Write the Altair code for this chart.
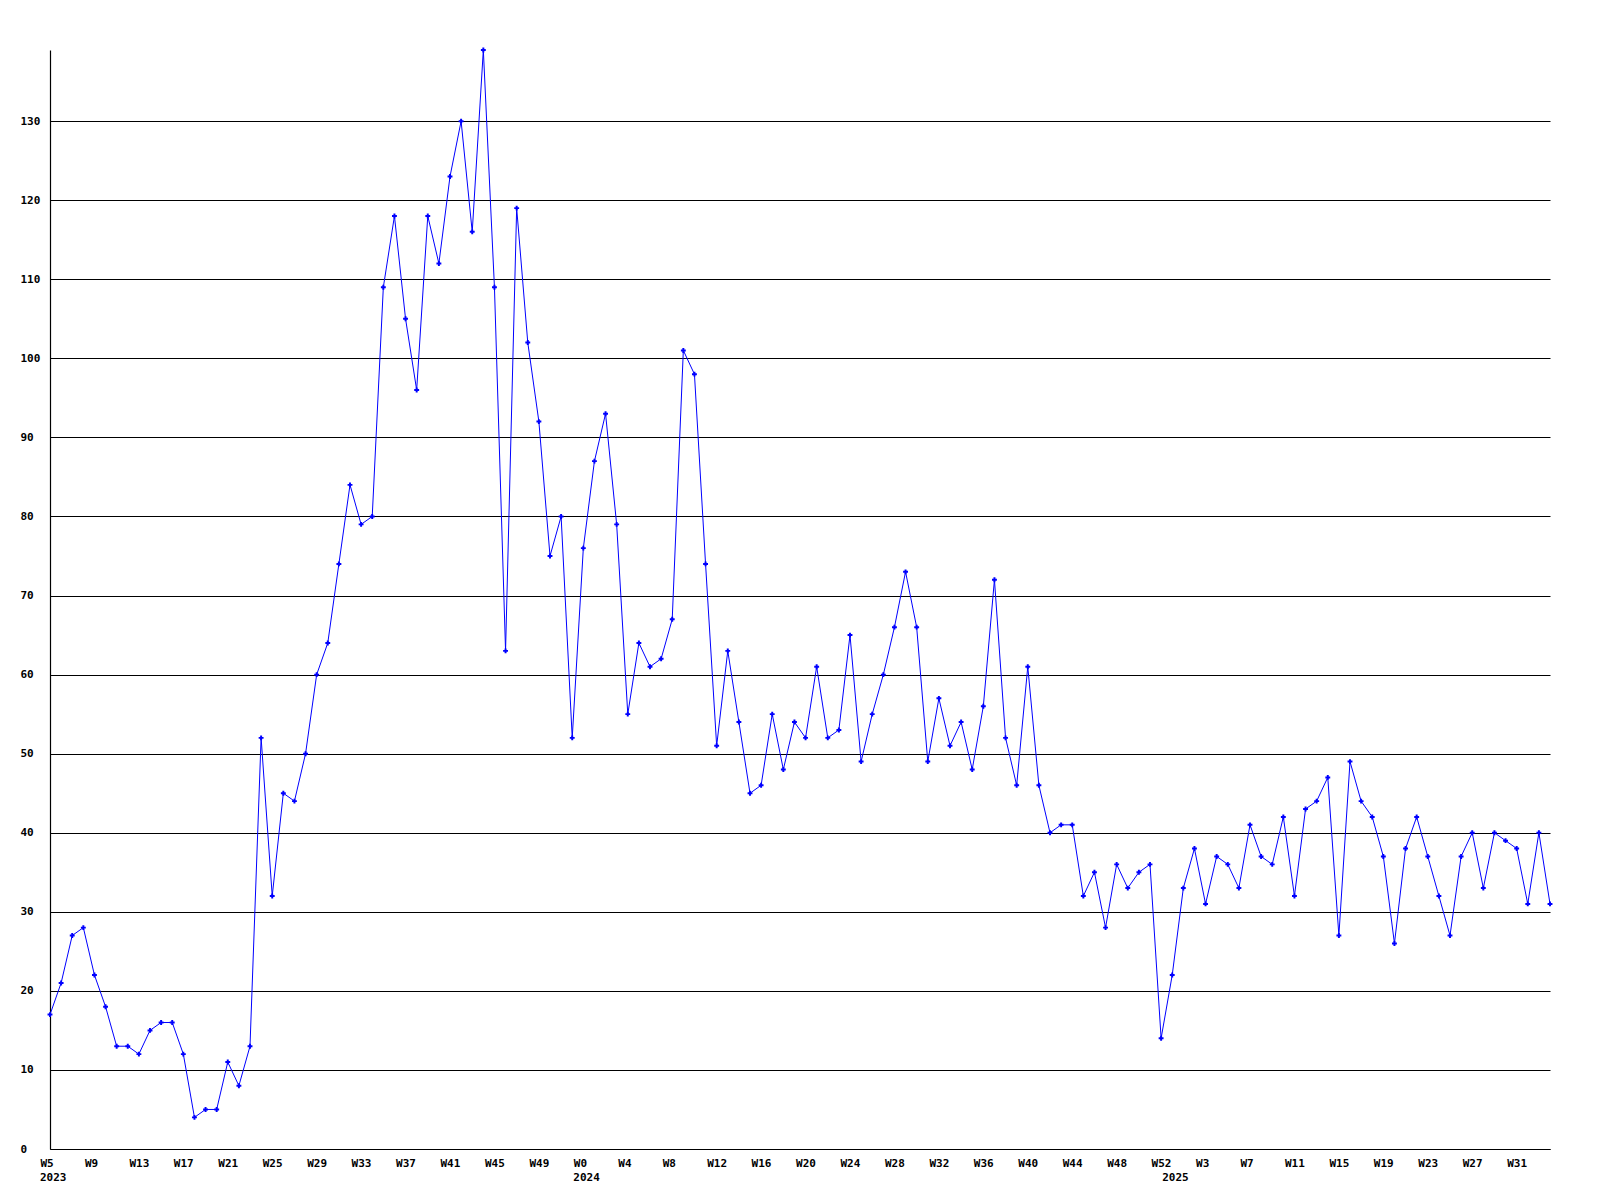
import altair as alt
import pandas as pd

values = [17, 21, 27, 28, 22, 18, 13, 13, 12, 15, 16, 16, 12, 4, 5, 5, 11, 8, 13, 52,
          32, 45, 44, 50, 60, 64, 74, 84, 79, 80, 109, 118, 105, 96, 118, 112, 123, 130, 116, 139,
          109, 63, 119, 102, 92, 75, 80, 52, 76, 87, 93, 79, 55, 64, 61, 62, 67, 101, 98, 74,
          51, 63, 54, 45, 46, 55, 48, 54, 52, 61, 52, 53, 65, 49, 55, 60, 66, 73, 66, 49,
          57, 51, 54, 48, 56, 72, 52, 46, 61, 46, 40, 41, 41, 32, 35, 28, 36, 33, 35, 36,
          14, 22, 33, 38, 31, 37, 36, 33, 41, 37, 36, 42, 32, 43, 44, 47, 27, 49, 44, 42,
          37, 26, 38, 42, 37, 32, 27, 37, 40, 33, 40, 39, 38, 31, 40, 31]

weeks_2023 = list(range(5, 53))
weeks_2024 = list(range(0, 53))
weeks_2025 = list(range(0, 35))
week_labels = ["W%d" % w for w in weeks_2023 + weeks_2024 + weeks_2025]
years = ["2023", "2024", "2025"]
year_start = [0, len(weeks_2023), len(weeks_2023) + len(weeks_2024)]

df = pd.DataFrame({"i": list(range(len(values))), "v": values, "wk": week_labels})
ydf = pd.DataFrame({"i": year_start, "year": years})

FONT = "DejaVu Sans Mono"
W, H = 1500, 1099

label_arr = "[" + ",".join("'%s'" % s for s in week_labels) + "]"

xs = alt.Scale(domain=[0, len(values) - 1], nice=False)
ys = alt.Scale(domain=[0, 139], nice=False)

x_axis = alt.Axis(values=list(range(0, len(values), 4)), labelExpr=label_arr + "[datum.value]",
                  title=None, grid=False, ticks=False, domainColor="black", domainWidth=1.2,
                  labelAlign="left", labelOffset=-10, labelBaseline="top", labelPadding=8,
                  labelFont=FONT, labelFontWeight="bold", labelFontSize=11, labelColor="black")
y_axis = alt.Axis(values=list(range(0, 140, 10)), title=None, grid=True, gridColor="black",
                  gridOpacity=1, gridWidth=1.2, ticks=False, domainColor="black", domainWidth=1.2,
                  labelAlign="left", labelPadding=30, labelBaseline="middle",
                  labelFont=FONT, labelFontWeight="bold", labelFontSize=11, labelColor="black")

base = alt.Chart(df)
line = base.mark_line(color="#0000FF", strokeWidth=1).encode(
    x=alt.X("i:Q", scale=xs, axis=x_axis),
    y=alt.Y("v:Q", scale=ys, axis=y_axis),
)
pts = base.mark_point(shape="cross", filled=True, size=24, color="#0000FF", opacity=1).encode(
    x=alt.X("i:Q", scale=xs),
    y=alt.Y("v:Q", scale=ys),
)
yr = alt.Chart(ydf).mark_text(font=FONT, fontWeight="bold", fontSize=11, color="black",
                              align="left", baseline="top", dx=-10).encode(
    x=alt.X("i:Q", scale=xs),
    y=alt.value(H + 23),
    text="year:N",
)

chart = alt.layer(line, pts, yr).properties(
    width=W, height=H,
    autosize=alt.AutoSizeParams(type="none"),
    padding={"left": 42, "top": 42, "right": 42, "bottom": 42},
    background="white",
).configure_view(stroke=None)

chart.save("out.html", embed_options={"renderer": "svg", "actions": False})
